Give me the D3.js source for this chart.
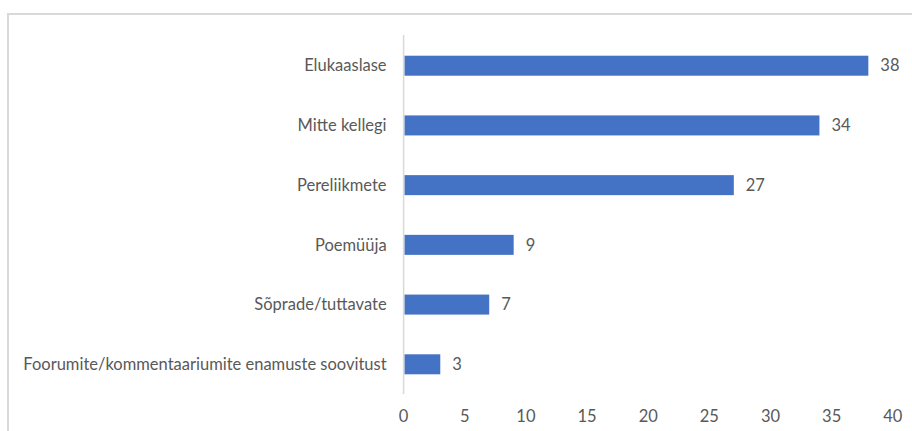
<!DOCTYPE html>
<html>
<head>
<meta charset="utf-8">
<script src="https://cdn.jsdelivr.net/npm/d3@7"></script>
<style>
  html, body { margin: 0; padding: 0; background: #fff; }
  svg { display: block; }
  text { font-family: Lato, "Open Sans", sans-serif; fill: #595959; }
</style>
</head>
<body>
<svg id="chart" width="912" height="431"></svg>
<script>
const categories = [
  "Elukaaslase",
  "Mitte kellegi",
  "Pereliikmete",
  "Poemüüja",
  "Sõprade/tuttavate",
  "Foorumite/kommentaariumite enamuste soovitust"
];
const values = [38, 34, 27, 9, 7, 3];
const xTicks = [0, 5, 10, 15, 20, 25, 30, 35, 40];

const svg = d3.select("#chart");
const W = 912, H = 431;
const fontSize = 16.5;

// outer frame (top and left edges visible)
svg.append("path")
  .attr("d", `M8,${H} L8,14 L${W},14`)
  .attr("fill", "none")
  .attr("stroke", "#d9d9d9")
  .attr("stroke-width", 2);

const margin = { left: 403.6, right: 19.2, top: 36, bottom: 37 };
const x = d3.scaleLinear().domain([0, 40]).range([margin.left, W - margin.right]);
const y = d3.scaleBand().domain(categories)
  .range([margin.top, H - margin.bottom])
  .paddingInner(0.665).paddingOuter(0.33);

// bars
svg.append("g").selectAll("rect")
  .data(values)
  .join("rect")
  .attr("x", x(0) + 0.8)
  .attr("y", (d, i) => y(categories[i]))
  .attr("width", d => x(d) - x(0) - 0.8)
  .attr("height", y.bandwidth())
  .attr("fill", "#4472c4");

// value labels
svg.append("g").selectAll("text")
  .data(values)
  .join("text")
  .attr("x", d => x(d) + 12)
  .attr("y", (d, i) => y(categories[i]) + y.bandwidth() / 2)
  .attr("dy", "0.35em")
  .attr("font-size", fontSize)
  .text(d => d);

// category axis line
svg.append("line")
  .attr("x1", x(0)).attr("x2", x(0))
  .attr("y1", 35).attr("y2", 394)
  .attr("stroke", "#d9d9d9")
  .attr("stroke-width", 1.5);

// category labels
svg.append("g").selectAll("text")
  .data(categories)
  .join("text")
  .attr("x", x(0) - 17)
  .attr("y", d => y(d) + y.bandwidth() / 2)
  .attr("dy", "0.35em")
  .attr("text-anchor", "end")
  .attr("font-size", fontSize)
  .text(d => d);

// value axis tick labels
svg.append("g").selectAll("text")
  .data(xTicks)
  .join("text")
  .attr("x", d => x(d))
  .attr("y", 422)
  .attr("text-anchor", "middle")
  .attr("font-size", fontSize)
  .text(d => d);
</script>
</body>
</html>
